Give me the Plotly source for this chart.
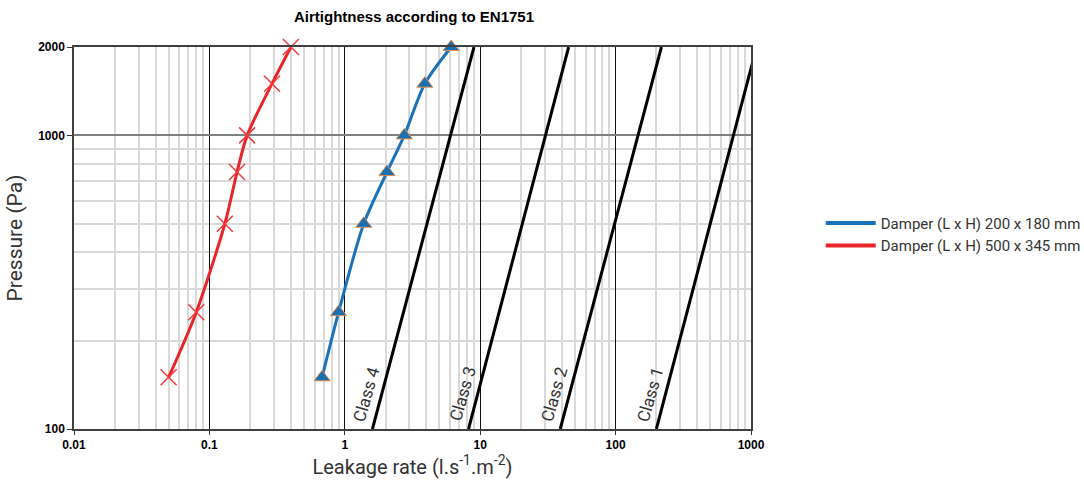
import math
import plotly.graph_objects as go

# Test pressures (Pa)
pressure = [150, 250, 500, 750, 1000, 1500, 2000]

# Measured leakage rates (l.s-1.m-2)
leak_200x180 = [0.68, 0.90, 1.38, 2.05, 2.75, 3.90, 6.10]
leak_500x345 = [0.050, 0.080, 0.130, 0.160, 0.190, 0.290, 0.400]

# EN1751 class limit lines, defined at 100 Pa and 2000 Pa
class_pressure = [100, 2000]
class_names = ["Class 4", "Class 3", "Class 2", "Class 1"]
class_leak = [
    [1.6, 9.0],
    [8.2, 45.0],
    [39.0, 218.0],
    [200.0, 1100.0],
]

x_ticks = [0.01, 0.1, 1, 10, 100, 1000]
x_tick_text = ["0.01", "0.1", "1", "10", "100", "1000"]
y_ticks = [100, 1000, 2000]
y_tick_text = ["100", "1000", "2000"]

x_minor = [m * 10 ** e for e in range(-2, 3) for m in range(2, 10)]
y_minor = [200, 300, 400, 500, 600, 700, 800, 900]

NARROW = "Roboto, Liberation Sans Narrow, sans-serif"
BOLD = "Liberation Sans, Arial, sans-serif"

fig = go.Figure()

for name, leak in zip(class_names, class_leak):
    fig.add_trace(go.Scatter(
        x=leak, y=class_pressure, mode="lines",
        line=dict(color="black", width=3),
        showlegend=False, hoverinfo="skip",
    ))
    # log axes take annotation positions in log10 units
    fig.add_annotation(
        x=math.log10(leak[0]), y=math.log10(class_pressure[0]),
        xref="x", yref="y",
        text=name, showarrow=False, textangle=-74,
        xanchor="center", yanchor="middle",
        xshift=-6, yshift=35,
        font=dict(family=NARROW, size=17, color="#333333"),
    )

fig.add_trace(go.Scatter(
    x=leak_500x345, y=pressure, mode="lines+markers",
    line=dict(color="#e8262a", width=3, shape="spline", smoothing=0.8),
    marker=dict(symbol="x-thin", size=16, line=dict(color="#f03c3c", width=1.5)),
    showlegend=False, cliponaxis=False,
))
fig.add_trace(go.Scatter(
    x=leak_200x180, y=pressure, mode="lines+markers",
    line=dict(color="#1a72bb", width=3, shape="spline", smoothing=0.8),
    marker=dict(symbol="triangle-up", size=14, color="#1a6fb0",
                line=dict(color="#e08a4a", width=1)),
    showlegend=False, cliponaxis=False,
))

# Legend entries (line only)
fig.add_trace(go.Scatter(
    x=[None], y=[None], mode="lines", name="Damper (L x H) 200 x 180 mm",
    line=dict(color="#1a72bb", width=4),
))
fig.add_trace(go.Scatter(
    x=[None], y=[None], mode="lines", name="Damper (L x H) 500 x 345 mm",
    line=dict(color="#e8262a", width=4),
))

fig.update_layout(
    width=1084, height=482,
    margin=dict(l=74, r=333, t=47, b=53, autoexpand=False),
    paper_bgcolor="white", plot_bgcolor="white",
    title=dict(
        text="Airtightness according to EN1751",
        x=414 / 1084, xanchor="center", y=1 - 17 / 482, yanchor="middle",
        font=dict(family=BOLD, size=15, color="black", weight="bold"),
    ),
    legend=dict(
        x=1.103, xanchor="left", y=0.51, yanchor="middle",
        font=dict(family=NARROW, size=15, color="#333333"),
        bgcolor="rgba(0,0,0,0)", itemwidth=50,
    ),
    showlegend=True,
)

fig.update_xaxes(
    type="log", range=[-2, 3],
    tickvals=x_ticks, ticktext=x_tick_text,
    tickfont=dict(family=BOLD, size=12, color="black", weight="bold"),
    ticks="outside", ticklen=4, tickcolor="#333333",
    showgrid=True, gridcolor="#111111", gridwidth=1,
    minor=dict(tickvals=x_minor, showgrid=True, gridcolor="#d9d9d9", gridwidth=1.5, ticks=""),
    showline=True, linecolor="#404040", linewidth=1.5, mirror=True,
    zeroline=False,
    title=dict(text="Leakage rate (l.s<sup>-1</sup>.m<sup>-2</sup>)",
               font=dict(family=NARROW, size=20, color="#333333"), standoff=6),
)
fig.update_yaxes(
    type="log", range=[2, 3.30103],
    tickvals=y_ticks, ticktext=y_tick_text,
    tickfont=dict(family=BOLD, size=12, color="black", weight="bold"),
    ticks="outside", ticklen=5, tickcolor="#333333",
    showgrid=True, gridcolor="#7f7f7f", gridwidth=1.5,
    minor=dict(tickvals=y_minor, showgrid=True, gridcolor="#d9d9d9", gridwidth=1.5, ticks=""),
    showline=True, linecolor="#404040", linewidth=1.5, mirror=True,
    zeroline=False,
    title=dict(text="Pressure (Pa)",
               font=dict(family=NARROW, size=21, color="#333333"), standoff=10),
)

fig.write_html("out.html")
